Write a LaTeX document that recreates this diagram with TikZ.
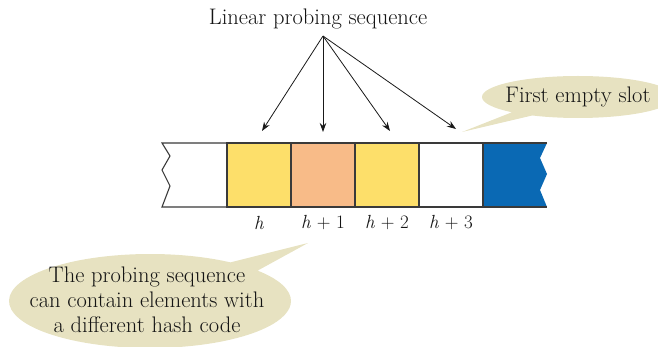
\documentclass[tikz,border=0pt]{standalone}
\usetikzlibrary{shapes.callouts,arrows.meta}
\definecolor{cellyellow}{HTML}{FDDF6A}
\definecolor{cellorange}{HTML}{F8BB88}
\definecolor{cellblue}{HTML}{0A69B4}
\definecolor{bubble}{HTML}{E7E2C1}
\definecolor{edgecol}{HTML}{3A3A3A}
\newcommand{\hidx}[1]{\textit{h}\ +\ #1}
\begin{document}
\begin{tikzpicture}[x=1pt,y=-1pt,
  cell/.style={draw=edgecol, line width=1.1pt, minimum width=64pt, minimum height=64pt, inner sep=0pt},
  probe/.style={-{Stealth[length=9pt,width=6.5pt]}, line width=0.8pt, black!90},
  bigtext/.style={font=\fontsize{22.5}{25}\selectfont, text=black!92},
  idx/.style={font=\fontsize{19}{22}\selectfont, text=black!92},
  bubbleshape/.style={ellipse callout, fill=bubble, draw=none, inner sep=0pt}
]
\useasboundingbox (0,0) rectangle (658,347);
\clip (0,0) rectangle (658,347);

% callouts
\coordinate (tipA) at (462,132);
\coordinate (tipB) at (308,243);
\node[bubbleshape, minimum width=192pt, minimum height=42pt,
      callout absolute pointer={(tipA)}] (empty) at (578,97) {};
\node[bigtext] (emptytext) at (empty.center) {First empty slot};
\node[bubbleshape, minimum width=282pt, minimum height=94pt,
      callout absolute pointer={(tipB)}] (note) at (150,301) {};
\node[bigtext, align=center] (notetext) at (147,300)
      {The probing sequence\\can contain elements with\\a different hash code};

% partial left cell
\fill[white] (227,143) -- (162,143) -- (170,156) -- (162,170) -- (170,186) -- (162,207) -- (227,207) -- cycle;
\draw[edgecol, line width=1.1pt] (227,143) -- (162,143) -- (170,156) -- (162,170) -- (170,186) -- (162,207) -- (227,207);
% partial right cell (blue)
\fill[cellblue] (483,143) -- (547,143) -- (540,158) -- (547,174) -- (540,190) -- (547,207) -- (483,207) -- cycle;
\draw[edgecol, line width=1.1pt] (483,143) -- (547,143);
\draw[edgecol, line width=1.1pt] (483,207) -- (547,207);

% cells
\node[cell, fill=cellyellow] (c0) at (259,175) {};
\node[cell, fill=cellorange] (c1) at (323,175) {};
\node[cell, fill=cellyellow] (c2) at (387,175) {};
\node[cell, fill=white] (c3) at (451,175) {};

% labels
\node[idx] (l0) at (259,223) {\textit{h}};
\node[idx] (l1) at (323,223) {\hidx{1}};
\node[idx] (l2) at (387,223) {\hidx{2}};
\node[idx] (l3) at (451,223) {\hidx{3}};

% title and arrows
\node[bigtext, anchor=base] (title) at (318,25) {Linear probing sequence};
\coordinate (src) at (323,36);
\coordinate (t0) at (262,131);
\coordinate (t1) at (323,132);
\coordinate (t2) at (390,131);
\coordinate (t3) at (456,129);
\draw[probe] (src) -- (t0);
\draw[probe] (src) -- (t1);
\draw[probe] (src) -- (t2);
\draw[probe] (src) -- (t3);
\end{tikzpicture}
\end{document}
